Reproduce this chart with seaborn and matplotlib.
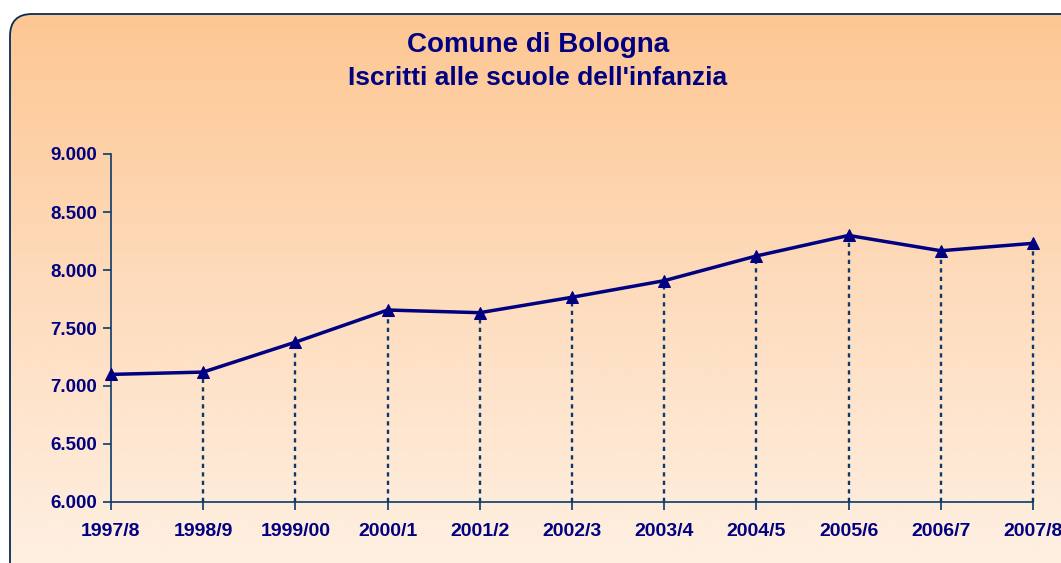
import numpy as np
import pandas as pd
import matplotlib
matplotlib.use("Agg")
import matplotlib.pyplot as plt
import seaborn as sns
from matplotlib.patches import FancyBboxPatch
from matplotlib.colors import LinearSegmentedColormap
from matplotlib.ticker import FuncFormatter

# Dati
anni = ["1997/8", "1998/9", "1999/00", "2000/1", "2001/2", "2002/3",
        "2003/4", "2004/5", "2005/6", "2006/7", "2007/8"]
iscritti = [7100, 7120, 7378, 7655, 7632, 7765, 7908, 8121, 8298, 8166, 8230]
tick_y = [6000, 6500, 7000, 7500, 8000, 8500, 9000]

titolo1 = "Comune di Bologna"
titolo2 = "Iscritti alle scuole dell'infanzia"

sns.set_style("ticks")
plt.rcParams["font.family"] = ["Liberation Sans", "DejaVu Sans"]
plt.rcParams["font.weight"] = "bold"

blu = "#000080"
blu_assi = "#0B3A6A"

fig = plt.figure(figsize=(10.61, 5.63), dpi=100, facecolor="white")

# sfondo con gradiente e bordo arrotondato
bg = fig.add_axes([0, 0, 1, 1])
bg.set_xlim(0, 1061)
bg.set_ylim(563, 0)
bg.axis("off")
box = FancyBboxPatch((10, 14), 1090, 580, boxstyle="round,pad=0,rounding_size=22",
                     facecolor="none", edgecolor="#0A2A55", linewidth=1.3, zorder=3)
bg.add_patch(box)
cmap = LinearSegmentedColormap.from_list("sfondo", ["#FDC793", "#FEDDBF", "#FEF2E6"])
grad = np.linspace(0, 1, 256).reshape(-1, 1)
img = bg.imshow(grad, cmap=cmap, extent=[10, 1100, 594, 14], aspect="auto", zorder=1)
img.set_clip_path(box)

ax = fig.add_axes([111 / 1061, 1 - 502 / 563, 922 / 1061, 348 / 563])
ax.set_facecolor("none")

df = pd.DataFrame({"pos": np.arange(len(anni)), "iscritti": iscritti})

# linee verticali tratteggiate
ax.vlines(df["pos"][1:], 6000, df["iscritti"][1:], colors=blu_assi,
          linestyles=(0, (1.8, 1.8)), linewidth=1.7, zorder=2, clip_on=False)

sns.lineplot(data=df, x="pos", y="iscritti", ax=ax, color=blu, linewidth=2.5,
             marker="^", markersize=9, markeredgecolor=blu, clip_on=False, zorder=3)

ax.set_xlim(0, len(anni) - 1)
ax.set_ylim(6000, 9000)
ax.set_xticks(df["pos"])
ax.set_xticklabels(anni)
ax.set_yticks(tick_y)
ax.yaxis.set_major_formatter(FuncFormatter(lambda v, p: f"{int(v):,}".replace(",", ".")))
ax.set_xlabel("")
ax.set_ylabel("")

for s in ["top", "right"]:
    ax.spines[s].set_visible(False)
for s in ["left", "bottom"]:
    ax.spines[s].set_color(blu_assi)
    ax.spines[s].set_linewidth(1.2)

ax.tick_params(axis="both", direction="out", length=6, width=1.2, color=blu_assi,
               labelcolor=blu, labelsize=14)
ax.tick_params(axis="x", pad=9)
ax.tick_params(axis="y", pad=4, labelsize=13.5)
for lab in ax.get_xticklabels() + ax.get_yticklabels():
    lab.set_fontweight("bold")

fig.text(538 / 1061, 1 - 45 / 563, titolo1, ha="center", va="center",
         fontsize=20, fontweight="bold", color=blu)
fig.text(538 / 1061, 1 - 78 / 563, titolo2, ha="center", va="center",
         fontsize=19, fontweight="bold", color=blu)

fig.savefig("out.png", dpi=100, facecolor="white")
